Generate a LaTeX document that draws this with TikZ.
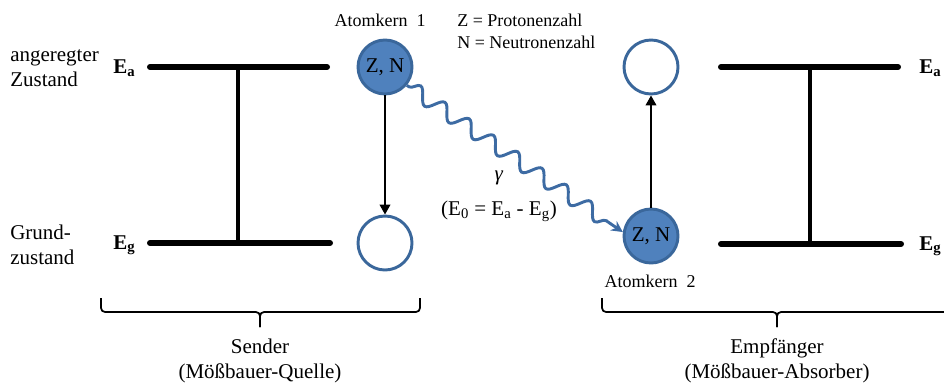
\documentclass[tikz,border=0pt]{standalone}
\usepackage{fontspec}
\setmainfont{Liberation Serif}
\newfontfamily\timesfont{Liberation Serif}
\usetikzlibrary{arrows.meta,decorations.pathmorphing}
\definecolor{kernfill}{HTML}{4F81BD}
\definecolor{kernline}{HTML}{3A679B}
\definecolor{wavecol}{HTML}{3D6BA3}
\begin{document}
\begin{tikzpicture}[x=0.75pt,y=-0.75pt,
  bigtext/.style={font=\timesfont\fontsize{15.75pt}{19pt}\selectfont, inner sep=0pt},
  smalltext/.style={font=\timesfont\fontsize{13.5pt}{16.5pt}\selectfont, inner sep=0pt},
  level/.style={line width=4.5pt, line cap=round},
  stem/.style={line width=2.4pt},
  kern/.style={circle, draw=kernline, line width=2.2pt, fill=kernfill, minimum size=40.5pt, inner sep=0pt, font=\timesfont\fontsize{15.75pt}{19pt}\selectfont},
  leer/.style={circle, draw=kernline, line width=2.2pt, fill=white, minimum size=40.5pt, inner sep=0pt},
  trans/.style={line width=1.4pt, -{Triangle[length=7.5pt,width=8pt]}},
  klammer/.style={line width=1.3pt, rounded corners=3pt}
]
\useasboundingbox (0,0) rectangle (944,385);
% levels left
\coordinate (la1) at (150,67); \coordinate (la2) at (327,67);
\coordinate (lg1) at (150,243); \coordinate (lg2) at (330,243);
\coordinate (lm1) at (238,67); \coordinate (lm2) at (238,243);
\draw[level] (la1) -- (la2);
\draw[level] (lg1) -- (lg2);
\draw[stem] (lm1) -- (lm2);
% levels right
\coordinate (ra1) at (721,67); \coordinate (ra2) at (898,67);
\coordinate (rg1) at (721,244); \coordinate (rg2) at (901,244);
\coordinate (rm1) at (810,67); \coordinate (rm2) at (810,244);
\draw[level] (ra1) -- (ra2);
\draw[level] (rg1) -- (rg2);
\draw[stem] (rm1) -- (rm2);
% labels left
\node[bigtext, align=left, anchor=west] (angeregt) at (10,68) {angeregter\\Zustand};
\node[bigtext, align=left, anchor=west] (grund) at (10,245) {Grund-\\zustand};
\node[bigtext, anchor=base west] (Ea1) at (113,74) {\textbf{E}\textsubscript{\textbf{a}}};
\node[bigtext, anchor=base west] (Eg1) at (113,249) {\textbf{E}\textsubscript{\textbf{g}}};
\node[bigtext, anchor=base west] (Ea2) at (919,74) {\textbf{E}\textsubscript{\textbf{a}}};
\node[bigtext, anchor=base west] (Eg2) at (919,250) {\textbf{E}\textsubscript{\textbf{g}}};
% nuclei
\node[kern] (k1) at (385,67) {Z, N};
\node[leer] (k1g) at (385,243) {};
\node[leer] (k2a) at (651,67) {};
\node[kern] (k2) at (651,236) {Z, N};
\draw[trans] (k1) -- (k1g);
\draw[trans] (k2) -- (k2a);
\node[smalltext] (at1) at (380,20) {Atomkern\ \ 1};
\node[smalltext] (at2) at (650,281) {Atomkern\ \ 2};
\node[smalltext, align=left, anchor=west] (legende) at (457,31) {Z = Protonenzahl\\N = Neutronenzahl};
% gamma
\draw[wavecol, line width=2.2pt, decorate, decoration={snake, amplitude=5.5pt, segment length=22pt, pre length=2pt, post length=7pt},
  -{Stealth[length=8.5pt,width=8.5pt]}] (k1.-40) -- (k2.172);
\node[bigtext] (gamma) at (499,178) {\textit{γ}};
\node[bigtext] (energie) at (499,211) {(E\textsubscript{0} = E\textsubscript{a} - E\textsubscript{g})};
% braces
\coordinate (b1l) at (101,298); \coordinate (b1r) at (420,298); \coordinate (b1t) at (260,327);
\draw[klammer] (b1l) -- (101,312) -- (260,312) -- (b1t);
\draw[klammer] (b1r) -- (420,312) -- (260,312) -- (b1t);
\coordinate (b2l) at (602,298); \coordinate (b2r) at (952,298); \coordinate (b2t) at (777,327);
\draw[klammer] (b2l) -- (602,312) -- (777,312) -- (b2t);
\draw[klammer] (b2r) -- (952,312) -- (777,312) -- (b2t);
\node[bigtext, align=center] (sender) at (260,361) {Sender\\(Mößbauer-Quelle)};
\node[bigtext, align=center] (empf) at (777,361) {Empfänger\\(Mößbauer-Absorber)};
\end{tikzpicture}
\end{document}
